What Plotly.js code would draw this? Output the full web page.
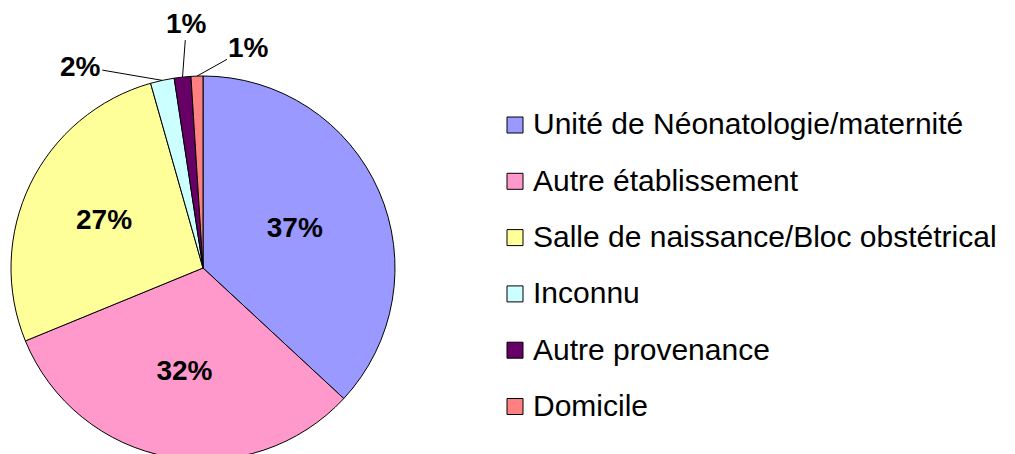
<!DOCTYPE html>
<html>
<head>
<meta charset="utf-8">
<script src="https://cdn.plot.ly/plotly-3.0.1.min.js"></script>
<style>
html,body{margin:0;padding:0;overflow:hidden;background:#fff;}
#chart{width:1015px;height:470px;}
</style>
</head>
<body>
<div id="chart"></div>
<script>
const categories = ["Unité de Néonatologie/maternité", "Autre établissement", "Salle de naissance/Bloc obstétrical", "Inconnu", "Autre provenance", "Domicile"];
const values = [36.9, 31.9, 26.8, 2.0, 1.4, 1.0];
const colors = ["#9999FF", "#FF99CC", "#FFFF99", "#CCFFFF", "#660066", "#FF8080"];

const W = 1015, H = 470;
const FONT = "Liberation Sans, Arial, sans-serif";
// pie placement (pixels)
const pieLeft = 11, pieTop = 76, pieSize = 384;
const cx = pieLeft + pieSize / 2, cy = pieTop + pieSize / 2, R = pieSize / 2;
const px = x => x / W;
const py = y => 1 - y / H;

const total = values.reduce((a, b) => a + b, 0);
const insideMin = 5; // slices below this % get outside labels
const texttemplate = values.map(v => (v / total * 100 >= insideMin) ? "%{percent:.0%}" : "");

const annotations = [];
const shapes = [];
// outside labels for small slices
const labelOffsets = [[-82, -14], [4, -54], [52, -29]];
let cum = 0, k = 0;
values.forEach((v, i) => {
  const frac = v / total;
  const mid = (cum + frac / 2) * 2 * Math.PI;
  cum += frac;
  if (frac * 100 < insideMin) {
    const ex = cx + R * Math.sin(mid), ey = cy - R * Math.cos(mid);
    const off = labelOffsets[k++];
    annotations.push({
      x: px(ex), y: py(ey), xref: "paper", yref: "paper",
      text: Math.round(frac * 100) + "%",
      showarrow: true, arrowhead: 0, arrowwidth: 1, arrowcolor: "#000", standoff: 0,
      ax: off[0], ay: off[1],
      font: {family: FONT, size: 28, color: "#000", weight: "bold"}
    });
  }
});

// custom legend
const legX = 507, legY0 = 125, legStep = 56.3, sq = 16;
categories.forEach((c, i) => {
  const yc = legY0 + i * legStep;
  shapes.push({
    type: "rect", xref: "paper", yref: "paper",
    x0: px(legX), x1: px(legX + sq), y0: py(yc + sq / 2), y1: py(yc - sq / 2),
    fillcolor: colors[i], line: {color: "#000", width: 1}
  });
  annotations.push({
    x: px(legX + sq + 8), y: py(yc - 1), xref: "paper", yref: "paper",
    xanchor: "left", yanchor: "middle", showarrow: false,
    text: c, font: {family: FONT, size: 30, color: "#000"}
  });
});

const trace = {
  type: "pie",
  labels: categories,
  values: values,
  sort: false,
  direction: "clockwise",
  rotation: 0,
  marker: {colors: colors, line: {color: "#000", width: 1}},
  texttemplate: texttemplate,
  textposition: "inside",
  insidetextorientation: "horizontal",
  textfont: {family: FONT, size: 28, color: "#000", weight: "bold"},
  hoverinfo: "none",
  domain: {x: [px(pieLeft), px(pieLeft + pieSize)], y: [py(pieTop + pieSize), py(pieTop)]}
};

const layout = {
  width: W, height: H,
  margin: {l: 0, r: 0, t: 0, b: 0},
  showlegend: false,
  paper_bgcolor: "#fff",
  annotations: annotations,
  shapes: shapes
};

Plotly.newPlot("chart", [trace], layout, {displayModeBar: false, staticPlot: true});
</script>
</body>
</html>
